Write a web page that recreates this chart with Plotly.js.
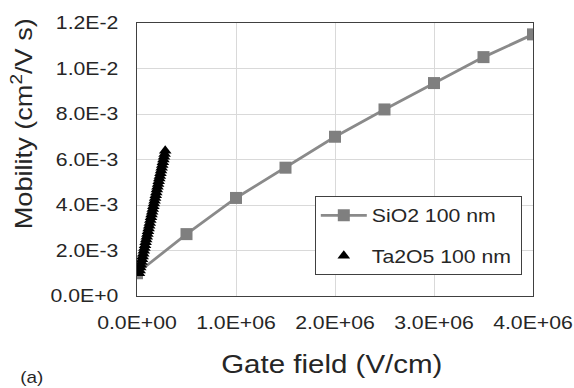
<!DOCTYPE html>
<html>
<head>
<meta charset="utf-8">
<script src="https://cdn.plot.ly/plotly-3.0.1.min.js"></script>
<style>
html,body{margin:0;padding:0;background:#fff;}
#chart{width:574px;height:388px;}
</style>
</head>
<body>
<div id="chart"></div>
<script>
// SiO2 100 nm
const sio2Field = [0, 500000, 1000000, 1500000, 2000000, 2500000, 3000000, 3500000, 4000000];
const sio2Mobility = [0.00100, 0.00272, 0.00431, 0.00564, 0.00700, 0.00820, 0.00936, 0.01050, 0.01150];

// Ta2O5 100 nm
const ta2o5Field = [20000, 27000, 33000, 39000, 45000, 51000, 57000, 63000, 69000, 75000,
  81000, 87000, 93000, 99000, 105000, 111000, 117000, 123000, 129000, 135000,
  141000, 147000, 153000, 159000, 165000, 171000, 177000, 183000, 189000, 195000,
  201000, 207000, 213000, 219000, 225000, 231000, 237000, 243000, 249000, 255000,
  261000, 267000, 273000, 279000, 285000];
const ta2o5Mobility = [0.00100, 0.00112, 0.00125, 0.00137, 0.00150, 0.00162, 0.00174, 0.00186, 0.00199, 0.00211,
  0.00223, 0.00236, 0.00248, 0.00260, 0.00272, 0.00285, 0.00297, 0.00309, 0.00321, 0.00334,
  0.00346, 0.00358, 0.00370, 0.00382, 0.00395, 0.00407, 0.00419, 0.00431, 0.00443, 0.00455,
  0.00468, 0.00480, 0.00492, 0.00504, 0.00516, 0.00528, 0.00540, 0.00552, 0.00564, 0.00576,
  0.00588, 0.00600, 0.00612, 0.00624, 0.00638];

// Axis ticks
const xTickVals = [0, 1000000, 2000000, 3000000, 4000000];
const xTickText = ["0.0E+00", "1.0E+06", "2.0E+06", "3.0E+06", "4.0E+06"];
const yTickVals = [0, 0.002, 0.004, 0.006, 0.008, 0.010, 0.012];
const yTickText = ["0.0E+0", "2.0E-3", "4.0E-3", "6.0E-3", "8.0E-3", "1.0E-2", "1.2E-2"];

const FONT = "Liberation Sans, Arial, sans-serif";
const TXT = "#262626";
const STRETCH = 1.18;
const LEGEND_W = 206;

const traces = [
  {
    x: sio2Field, y: sio2Mobility, name: "SiO2 100 nm", type: "scatter", mode: "lines+markers",
    line: {color: "#8a8a8a", width: 2.8},
    marker: {symbol: "square", size: 12, color: "#7f7f7f"},
    legendgroup: "a"
  },
  {
    x: ta2o5Field, y: ta2o5Mobility, name: "Ta2O5 100 nm", type: "scatter", mode: "markers",
    marker: {symbol: "triangle-up", size: 11, color: "#000000"},
    legendgroup: "b"
  }
];

const layout = {
  width: 574, height: 388,
  margin: {l: 137, r: 41, t: 23, b: 92, pad: 0},
  paper_bgcolor: "#ffffff", plot_bgcolor: "#ffffff",
  font: {family: FONT, color: TXT, size: 18},
  showlegend: true,
  legend: {
    x: 0.449, xanchor: "left", y: 0.366, yanchor: "top",
    bordercolor: "#404040", borderwidth: 1, bgcolor: "#ffffff",
    font: {family: FONT, size: 18, color: TXT},
    tracegroupgap: 14, itemwidth: 46
  },
  xaxis: {
    range: [0, 4000000], tickvals: xTickVals, ticktext: xTickText,
    showgrid: true, gridcolor: "#d9d9d9", gridwidth: 1,
    showline: true, linecolor: "#404040", linewidth: 1, mirror: true,
    ticks: "", ticklabelstandoff: 10, zeroline: false,
    tickfont: {family: FONT, size: 18, color: TXT}
  },
  yaxis: {
    range: [0, 0.012], tickvals: yTickVals, ticktext: yTickText,
    showgrid: true, gridcolor: "#d9d9d9", gridwidth: 1,
    showline: true, linecolor: "#404040", linewidth: 1, mirror: true,
    ticks: "", ticklabelstandoff: 14, zeroline: false,
    tickfont: {family: FONT, size: 18, color: TXT}
  },
  annotations: [
    {text: "Mobility (cm<sup>2</sup>/V s)", xref: "paper", yref: "paper",
     x: -0.29, y: 0.63, xanchor: "center", yanchor: "middle", textangle: -90,
     showarrow: false, font: {family: FONT, size: 23, color: TXT}},
    {text: "Gate field (V/cm)", xref: "paper", yref: "paper",
     x: 0.4924, y: -0.249, xanchor: "center", yanchor: "middle",
     showarrow: false, font: {family: FONT, size: 25, color: TXT}},
    {text: "(a)", xref: "paper", yref: "paper",
     x: -0.265, y: -0.297, xanchor: "center", yanchor: "middle",
     showarrow: false, font: {family: FONT, size: 16, color: TXT}}
  ]
};

// The reference typeface is drawn wider than Arial; widen the glyphs along the text direction.
function widenText(root) {
  root.querySelectorAll("text").forEach(function (el) {
    if (!el.textContent || !el.textContent.trim()) return;
    const bb = el.getBBox();
    const anchor = el.getAttribute("text-anchor") || "start";
    let ax = bb.x;
    if (anchor === "middle") ax = bb.x + bb.width / 2;
    else if (anchor === "end") ax = bb.x + bb.width;
    const t = el.getAttribute("transform") || "";
    el.setAttribute("transform", t + " translate(" + ax + ",0) scale(" + STRETCH + ",1) translate(" + (-ax) + ",0)");
  });
}

Plotly.newPlot("chart", traces, layout, {staticPlot: true, displayModeBar: false}).then(function (gd) {
  widenText(gd);
  // widen the legend box to hold the wider text
  const leg = gd.querySelector(".legend");
  if (leg) {
    const bg = leg.querySelector("rect.bg");
    bg.setAttribute("width", LEGEND_W);
    document.querySelectorAll("clipPath rect").forEach(function (r) {
      if (r.closest("clipPath").id.indexOf("legend") >= 0) r.setAttribute("width", LEGEND_W);
    });
  }
});
</script>
</body>
</html>
